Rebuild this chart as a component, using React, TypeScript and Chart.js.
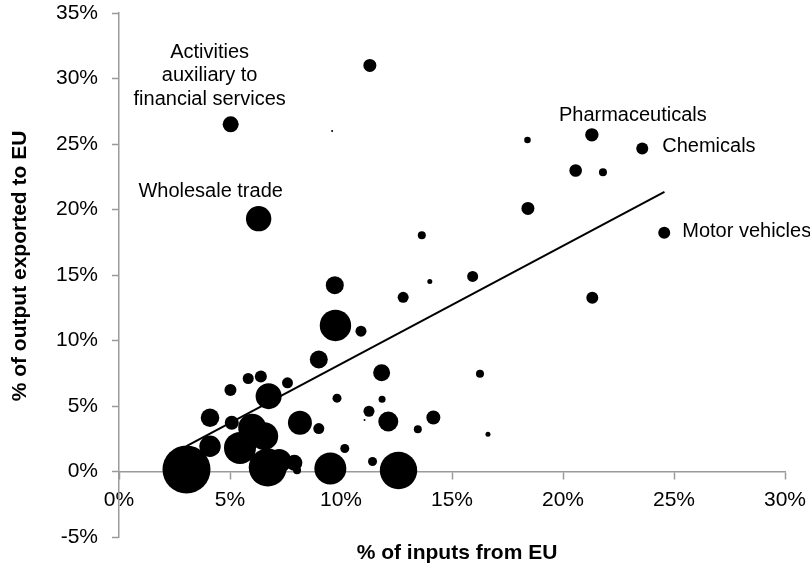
import React, { useEffect, useRef } from 'react';
import { Chart, registerables } from 'chart.js';

Chart.register(...registerables);

const FONT = '"Liberation Sans", Arial, sans-serif';
const AXIS_GRAY = '#9a9a9a';

// % of inputs from EU (x)
const inputsFromEU = [
  11.3, 5.03, 9.6, 6.29, 21.3, 18.4, 23.57, 20.57, 21.8, 18.42,
  24.56, 13.64, 14.0, 15.93, 12.8, 21.32, 16.26, 14.16, 13.46, 16.62,
  9.72, 9.75, 10.9, 9.0, 11.83, 5.82, 6.39, 7.59, 5.02, 6.74,
  9.82, 11.85, 11.26, 11.06, 4.1, 5.08, 8.15, 9.0, 12.13, 4.1,
  5.45, 6.0, 6.54, 6.7, 7.22, 7.9, 8.02, 10.17, 11.42, 3.04,
  9.52, 12.59,
];

// % of output exported to EU (y)
const outputToEU = [
  31.0, 26.5, 26.0, 19.3, 25.7, 25.3, 24.66, 22.98, 22.85, 20.08,
  18.22, 18.04, 14.5, 14.89, 13.3, 13.26, 7.46, 4.12, 3.23, 2.85,
  14.22, 11.15, 10.71, 8.55, 7.53, 7.1, 7.25, 6.77, 6.23, 5.75,
  5.6, 5.52, 4.6, 3.94, 4.1, 3.72, 3.72, 3.28, 3.82, 1.93,
  1.8, 3.34, 2.7, 0.3, 0.8, 0.66, 0.1, 1.76, 0.76, 0.15,
  0.23, 0.08,
];

// bubble size (sector weight)
const bubbleSize = [
  6.5, 8, 1, 12.7, 6.7, 3.3, 6, 6.3, 4, 6.5,
  6, 4, 2.5, 5.5, 5.5, 6, 4, 7, 4, 2.5,
  9, 15.7, 5.5, 9, 8.5, 5.5, 6, 5.5, 6, 13,
  4.5, 3.5, 5.5, 1, 9.3, 7, 12, 5.5, 10, 10.7,
  16, 14, 14, 19, 12, 8, 4, 4.5, 4.5, 24,
  16, 18.7,
];

// trend line end points
const trendX = [3.04, 24.57];
const trendY = [1.93, 21.35];

const xTickValues = [0, 5, 10, 15, 20, 25, 30];
const yTickValues = [-5, 0, 5, 10, 15, 20, 25, 30, 35];

const xTitle = '% of inputs from EU';
const yTitle = '% of output exported to EU';

const labels = [
  { point: 1, lines: ['Activities', 'auxiliary to', 'financial services'], dx: -21, dy: -72, align: 'center' },
  { point: 3, lines: ['Wholesale trade'], dx: -48, dy: -27, align: 'center' },
  { point: 4, lines: ['Pharmaceuticals'], dx: 41, dy: -19, align: 'center' },
  { point: 6, lines: ['Chemicals'], dx: 20, dy: -1.5, align: 'left' },
  { point: 10, lines: ['Motor vehicles'], dx: 18, dy: -1, align: 'left' },
];

const textPlugin = {
  id: 'customTexts',
  afterDraw(chart: any) {
    const { ctx, chartArea } = chart;
    const xs = chart.scales.x;
    const ys = chart.scales.y;
    ctx.save();
    ctx.fillStyle = '#000';
    ctx.textBaseline = 'middle';
    ctx.font = `20px ${FONT}`;
    for (const l of labels) {
      const px = xs.getPixelForValue(inputsFromEU[l.point]) + l.dx;
      const py = ys.getPixelForValue(outputToEU[l.point]) + l.dy;
      ctx.textAlign = l.align;
      l.lines.forEach((line: string, i: number) => ctx.fillText(line, px, py + i * 23.5));
    }
    ctx.font = `bold 21px ${FONT}`;
    ctx.textAlign = 'center';
    ctx.fillText(xTitle, (chartArea.left + chartArea.right) / 2 + 5, chartArea.bottom + 16);
    ctx.translate(20, (chartArea.top + chartArea.bottom) / 2 - 9);
    ctx.rotate(-Math.PI / 2);
    ctx.fillText(yTitle, 0, 0);
    ctx.restore();
  },
};

export default function App() {
  const ref = useRef<HTMLCanvasElement>(null);
  useEffect(() => {
    if (!ref.current) return;
    const chart = new Chart(ref.current, {
      type: 'bubble',
      data: {
        datasets: [
          {
            type: 'line',
            data: trendX.map((x, i) => ({ x, y: trendY[i] })),
            borderColor: '#000',
            borderWidth: 2,
            pointRadius: 0,
            fill: false,
          } as any,
          {
            type: 'bubble',
            data: inputsFromEU.map((x, i) => ({ x, y: outputToEU[i], r: bubbleSize[i] })),
            backgroundColor: '#000',
            borderColor: '#000',
            borderWidth: 0,
            hoverRadius: 0,
          },
        ],
      },
      options: {
        animation: false,
        responsive: true,
        maintainAspectRatio: false,
        layout: { autoPadding: false, padding: { left: 0, right: 25, top: 13, bottom: 30 } },
        plugins: { legend: { display: false }, tooltip: { enabled: false }, title: { display: false } },
        scales: {
          x: {
            type: 'linear',
            axis: 'x',
            min: 0,
            max: 30,
            position: { y: 0 } as any,
            afterBuildTicks: (s: any) => {
              s.ticks = xTickValues.map((v) => ({ value: v }));
            },
            afterFit: (s: any) => {
              s.height = 0;
              s.paddingLeft = 0;
              s.paddingRight = 0;
            },
            ticks: {
              callback: (v: any) => v + '%',
              font: { family: FONT, size: 21 },
              color: '#000',
              padding: 9,
              maxRotation: 0,
              autoSkip: false,
            },
            grid: { drawOnChartArea: false, drawTicks: true, tickLength: 7, tickColor: AXIS_GRAY, tickWidth: 1.5 },
            border: { display: true, color: AXIS_GRAY, width: 1.5 },
          },
          y: {
            type: 'linear',
            min: -5,
            max: 35,
            position: 'left',
            afterBuildTicks: (s: any) => {
              s.ticks = yTickValues.map((v) => ({ value: v }));
            },
            afterFit: (s: any) => {
              s.width = 119;
              s.paddingTop = 0;
              s.paddingBottom = 0;
            },
            ticks: {
              callback: (v: any) => v + '%',
              font: { family: FONT, size: 21 },
              color: '#000',
              padding: 14,
              autoSkip: false,
            },
            grid: { drawOnChartArea: false, drawTicks: true, tickLength: 7, tickColor: AXIS_GRAY, tickWidth: 1.5 },
            border: { display: true, color: AXIS_GRAY, width: 1.5 },
          },
        },
      },
      plugins: [textPlugin],
    });
    return () => chart.destroy();
  }, []);
  return (
    <div style={{ position: 'absolute', left: 0, top: 0, width: 810, height: 567 }}>
      <canvas ref={ref} />
    </div>
  );
}
